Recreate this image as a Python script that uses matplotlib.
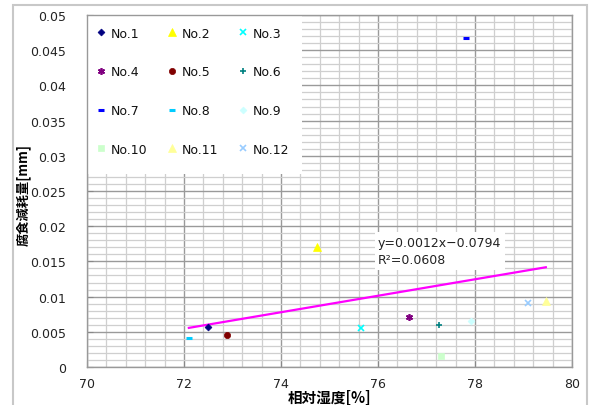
import matplotlib
matplotlib.use("Agg")
import matplotlib.pyplot as plt
import numpy as np
from matplotlib.patches import Rectangle
from matplotlib.ticker import MultipleLocator, FuncFormatter

# ---- data ----
labels = ["No.1", "No.2", "No.3", "No.4", "No.5", "No.6",
          "No.7", "No.8", "No.9", "No.10", "No.11", "No.12"]
humidity = [72.5, 74.74, 75.64, 76.64, 72.88, 77.25, 77.81, 72.1, 77.91, 77.29, 79.46, 79.09]
corrosion = [0.0057, 0.0171, 0.0055, 0.0071, 0.0046, 0.0060, 0.0468, 0.0041, 0.0065, 0.0015, 0.0094, 0.0091]
colors = ["#000080", "#FFFF00", "#00FFFF", "#800080", "#800000", "#008080",
          "#0000FF", "#00CCFF", "#CCFFFF", "#CCFFCC", "#FFFF99", "#99CCFF"]
markers = ["D", "^", "x", (6, 2, 0), "o", "+", "_", "_", "D", "s", "^", "x"]
msizes = [3.5, 5.5, 4, 5, 4.5, 5, 4, 5, 3.5, 5, 5.5, 4]

trend_slope = 0.00117
trend_intercept = -0.0788
equation_text = "y=0.0012x\u22120.0794\nR\u00b2=0.0608"
xlabel = "相対湿度[%]"
ylabel = "腐食減耗量[mm]"
xticks = [70, 72, 74, 76, 78, 80]
yticks = [0, 0.005, 0.01, 0.015, 0.02, 0.025, 0.03, 0.035, 0.04, 0.045, 0.05]

plt.rcParams['font.family'] = ['DejaVu Sans']
W, H = 592, 406
fig = plt.figure(figsize=(W / 100, H / 100), dpi=100)
ax = fig.add_axes([87 / W, 1 - 368 / H, (572 - 87) / W, (368 - 16) / H])

ax.set_xlim(70, 80)
ax.set_ylim(0, 0.05)
ax.set_xticks(xticks)
ax.set_yticks(yticks)
ax.xaxis.set_minor_locator(MultipleLocator(0.4))
ax.yaxis.set_minor_locator(MultipleLocator(0.001))
ax.yaxis.set_major_formatter(FuncFormatter(lambda v, p: "%g" % round(v, 4)))
ax.set_axisbelow(True)
ax.grid(which='major', color='#9a9a9a', linewidth=1.0, zorder=0)
ax.grid(which='minor', color='#cfcfcf', linewidth=0.9, zorder=0)
ax.tick_params(axis='both', which='major', direction='in', length=4, color='#888888',
               labelsize=9, labelcolor='#222222')
ax.tick_params(axis='y', which='major', pad=15)
ax.tick_params(axis='x', which='major', pad=7)
ax.tick_params(axis='both', which='minor', length=0)
for s in ax.spines.values():
    s.set_color('#999999')
    s.set_linewidth(1.0)

# white legend area
ax.add_patch(Rectangle((0, (368 - 175) / 352), (302 - 87) / 485, 1 - (368 - 175) / 352,
                       transform=ax.transAxes, facecolor='white', edgecolor='none', zorder=1.5))

handles = []
for i in range(len(labels)):
    ms = msizes[i]
    if markers[i] == "_":
        mew = 2.2
    elif markers[i] in ("x", "+") or isinstance(markers[i], tuple):
        mew = 1.2
    else:
        mew = 0.5
    h, = ax.plot([humidity[i]], [corrosion[i]], linestyle='none', marker=markers[i],
                 color=colors[i], markersize=ms, markeredgewidth=mew, label=labels[i], zorder=4)
    handles.append(h)

# trend line
xs = np.array([min(humidity), max(humidity)])
ax.plot(xs, trend_slope * xs + trend_intercept, color='#FF00FF', linewidth=1.6, zorder=3)

ax.text(76.0, 0.0165, equation_text, fontsize=9, color='#222222', ha='left', va='center',
        linespacing=1.45, zorder=5,
        bbox=dict(facecolor='white', edgecolor='none', pad=2.5))

# legend, ordered row-wise in 3 columns
order = []
for c in range(3):
    for r in range(4):
        order.append(r * 3 + c)
leg = ax.legend([handles[k] for k in order], [labels[k] for k in order], ncol=3,
                loc='upper left', bbox_to_anchor=(0, 1 - 4 / 352), borderaxespad=0,
                frameon=False, fontsize=9, handlelength=1.0, handletextpad=0.3,
                borderpad=0.62, labelspacing=2.05, columnspacing=1.45)
leg.set_zorder(6)
for t in leg.get_texts():
    t.set_color('#111111')

fig.text(330 / W, 1 - 398 / H, xlabel, fontsize=10.5, fontweight='bold', ha='center', va='center',
         family=['Noto Sans CJK JP', 'DejaVu Sans'])
fig.text(23 / W, 1 - 195 / H, ylabel, fontsize=9.5, fontweight='bold', ha='center', va='center',
         rotation=90, family=['Noto Sans CJK JP', 'DejaVu Sans'])

# outer chart border
fig.add_artist(Rectangle((13 / W, -0.1), (587 - 13) / W, 1.1 - 6 / H, transform=fig.transFigure,
                         facecolor='none', edgecolor='#c8c8c8', linewidth=1.5))

fig.savefig("out.png", dpi=100)
